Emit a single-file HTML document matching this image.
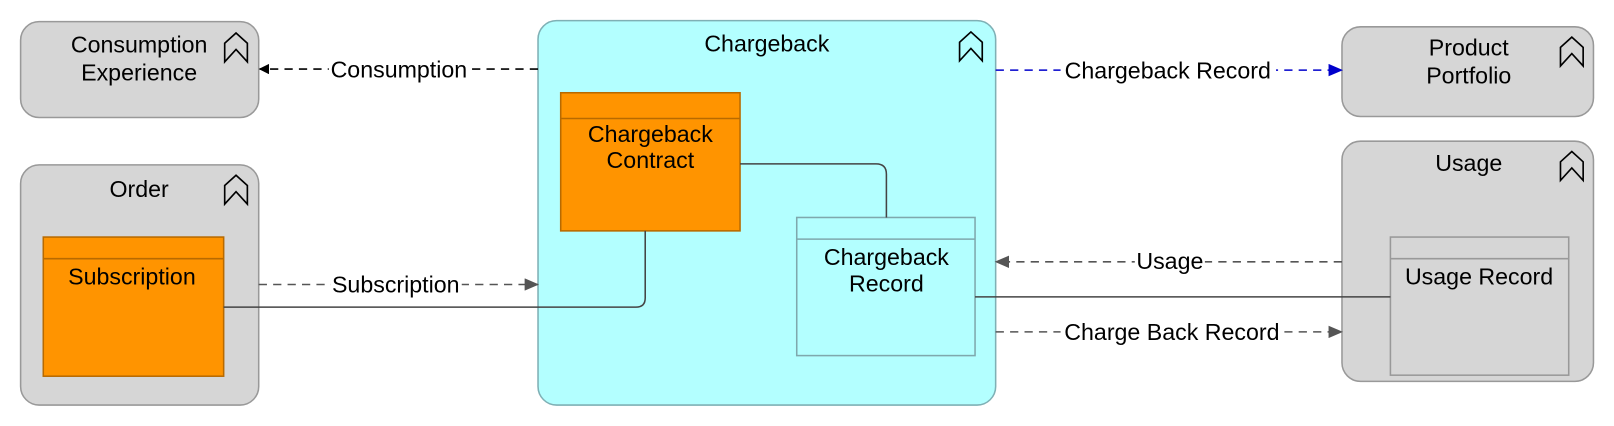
<!DOCTYPE html>
<html><head><style>body{margin:0;background:#fff}svg{display:block}text{font-family:"Liberation Sans",Arial,sans-serif;font-size:22.5px;fill:#000}</style></head>
<body>
<svg width="1614" height="426" viewBox="0 0 1614 426" xmlns="http://www.w3.org/2000/svg">
<defs>
<marker id="ab" markerWidth="10" markerHeight="10" refX="9" refY="5" orient="auto" markerUnits="userSpaceOnUse"><path d="M0,0 L10,5 L0,10 z" fill="#000"/></marker>
<marker id="ag" markerWidth="14" markerHeight="12" refX="13" refY="6" orient="auto" markerUnits="userSpaceOnUse"><path d="M0,0 L14,6 L0,12 z" fill="#555"/></marker>
<marker id="au" markerWidth="14" markerHeight="12" refX="13" refY="6" orient="auto" markerUnits="userSpaceOnUse"><path d="M0,0 L14,6 L0,12 z" fill="#0000cc"/></marker>
<g id="ic"><path d="M0,10 L11,0 L22,10 L22,28 L11,16 L0,28 Z" fill="none" stroke="#000" stroke-width="1.6"/></g>
</defs>
<g transform="scale(1.0307)">
<rect x="20" y="21" width="231" height="93" rx="18" fill="#d6d6d6" stroke="#999" stroke-width="1.5"/>
<rect x="20" y="160" width="231" height="233" rx="18" fill="#d6d6d6" stroke="#999" stroke-width="1.5"/>
<rect x="522" y="20" width="444" height="373" rx="18" fill="#b3ffff" stroke="#7fb0b5" stroke-width="1.5"/>
<rect x="1302" y="26" width="244" height="87" rx="18" fill="#d6d6d6" stroke="#999" stroke-width="1.5"/>
<rect x="1302" y="137" width="244" height="233" rx="18" fill="#d6d6d6" stroke="#999" stroke-width="1.5"/>
<use href="#ic" x="218" y="32"/><use href="#ic" x="218" y="170"/><use href="#ic" x="931" y="31"/>
<use href="#ic" x="1514" y="36"/><use href="#ic" x="1514" y="147"/>
<text x="135" y="51" text-anchor="middle">Consumption</text>
<text x="135" y="78" text-anchor="middle">Experience</text>
<text x="135" y="191" text-anchor="middle">Order</text>
<text x="744" y="50" text-anchor="middle">Chargeback</text>
<text x="1425" y="54" text-anchor="middle">Product</text>
<text x="1425" y="81" text-anchor="middle">Portfolio</text>
<text x="1425" y="166" text-anchor="middle">Usage</text>
<rect x="42" y="230" width="175" height="135" fill="#ff9400" stroke="#b86a00" stroke-width="1.5"/>
<line x1="42" y1="251" x2="217" y2="251" stroke="#b86a00" stroke-width="1.5"/>
<text x="128" y="276" text-anchor="middle">Subscription</text>
<rect x="544" y="90" width="174" height="134" fill="#ff9400" stroke="#b86a00" stroke-width="1.5"/>
<line x1="544" y1="115" x2="718" y2="115" stroke="#b86a00" stroke-width="1.5"/>
<text x="631" y="138" text-anchor="middle">Chargeback</text>
<text x="631" y="163" text-anchor="middle">Contract</text>
<rect x="773" y="211" width="173" height="134" fill="none" stroke="#7fa8ad" stroke-width="1.5"/>
<line x1="773" y1="232" x2="946" y2="232" stroke="#7fa8ad" stroke-width="1.5"/>
<text x="860" y="257" text-anchor="middle">Chargeback</text>
<text x="860" y="283" text-anchor="middle">Record</text>
<rect x="1349" y="230" width="173" height="134" fill="none" stroke="#999" stroke-width="1.5"/>
<line x1="1349" y1="251" x2="1522" y2="251" stroke="#999" stroke-width="1.5"/>
<text x="1435" y="276" text-anchor="middle">Usage Record</text>
<path d="M217,298 H617 Q626,298 626,289 V224" fill="none" stroke="#444" stroke-width="1.5"/>
<path d="M718,159 H850 Q860,159 860,169 V211" fill="none" stroke="#444" stroke-width="1.5"/>
<line x1="946" y1="288" x2="1349" y2="288" stroke="#444" stroke-width="1.5"/>
<line x1="522" y1="67" x2="252" y2="67" stroke="#000" stroke-width="1.5" stroke-dasharray="8,6" marker-end="url(#ab)"/>
<rect x="319" y="54" width="137" height="26" fill="#fff"/>
<text x="387" y="75" text-anchor="middle">Consumption</text>
<line x1="966" y1="68" x2="1302" y2="68" stroke="#0000cc" stroke-width="1.5" stroke-dasharray="8,6" marker-end="url(#au)"/>
<rect x="1029" y="55" width="209" height="26" fill="#fff"/>
<text x="1133" y="76" text-anchor="middle">Chargeback Record</text>
<line x1="251" y1="276" x2="522" y2="276" stroke="#555" stroke-width="1.5" stroke-dasharray="8,6" marker-end="url(#ag)"/>
<rect x="321" y="263" width="127" height="26" fill="#fff"/>
<text x="384" y="284" text-anchor="middle">Subscription</text>
<line x1="1302" y1="254" x2="966" y2="254" stroke="#555" stroke-width="1.5" stroke-dasharray="8,6" marker-end="url(#ag)"/>
<rect x="1101" y="241" width="68" height="26" fill="#fff"/>
<text x="1135" y="261" text-anchor="middle">Usage</text>
<line x1="966" y1="322" x2="1302" y2="322" stroke="#555" stroke-width="1.5" stroke-dasharray="8,6" marker-end="url(#ag)"/>
<rect x="1029" y="309" width="217" height="26" fill="#fff"/>
<text x="1137" y="330" text-anchor="middle">Charge Back Record</text>
</g>
</svg>
</body></html>
